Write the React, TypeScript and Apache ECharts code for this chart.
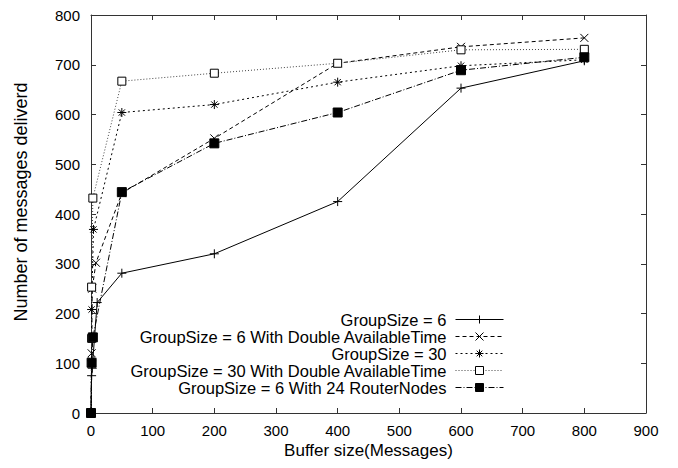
import React, { useEffect, useRef } from "react";
import * as echarts from "echarts";

const seriesNames = [
  "GroupSize = 6",
  "GroupSize = 6 With Double AvailableTime",
  "GroupSize = 30",
  "GroupSize = 30 With Double AvailableTime",
  "GroupSize = 6 With 24 RouterNodes",
];

const groupSize6: [number, number][] = [
  [0, 0], [1, 75], [2, 90], [10, 222], [50, 281], [200, 320], [400, 425], [600, 653], [800, 708],
];
const groupSize6Double: [number, number][] = [
  [0, 0], [1, 120], [2, 250], [8, 302], [50, 442], [200, 552], [400, 703], [600, 736], [800, 754],
];
const groupSize30: [number, number][] = [
  [0, 0], [1, 105], [1, 208], [4, 369], [50, 604], [200, 620], [400, 665], [600, 698], [800, 710],
];
const groupSize30Double: [number, number][] = [
  [0, 0], [1, 150], [1, 253], [3, 432], [50, 667], [200, 683], [400, 703], [600, 730], [800, 731],
];
const groupSize6Router: [number, number][] = [
  [0, 0], [1, 101], [3, 152], [50, 444], [200, 542], [400, 604], [600, 689], [800, 715],
];

const xTicks = [0, 100, 200, 300, 400, 500, 600, 700, 800, 900];
const yTicks = [0, 100, 200, 300, 400, 500, 600, 700, 800];

const PLUS = "path://M0,5L10,5M5,0L5,10";
const CROSS = "path://M0,0L10,10M0,10L10,0";
const STAR = "path://M0,5L10,5M5,0L5,10M1.5,1.5L8.5,8.5M1.5,8.5L8.5,1.5";

export default function App() {
  const ref = useRef<HTMLDivElement>(null);
  useEffect(() => {
    if (!ref.current) return;
    const chart = echarts.init(ref.current, null, { renderer: "svg" });
    const font = "Liberation Sans, Arial, Helvetica, sans-serif";
    const axisColor = "#333";
    const mk = (
      name: string,
      data: [number, number][],
      symbol: string,
      size: number,
      dash: any,
      fill: string,
      lineColor = "#000"
    ) => ({
      name,
      type: "line",
      data,
      symbol,
      symbolSize: size,
      showAllSymbol: true,
      color: "#000",
      lineStyle: { color: lineColor, width: 1, type: dash },
      itemStyle: { color: fill, borderColor: "#000", borderWidth: 1 },
      emphasis: { disabled: true },
    });
    chart.setOption({
      animation: false,
      textStyle: { fontFamily: font },
      grid: { left: 91, right: 32, top: 15, bottom: 55, containLabel: false },
      legend: {
        orient: "vertical",
        right: 169,
        top: 306,
        align: "right",
        itemWidth: 48,
        itemHeight: 10,
        itemGap: 0,
        selectedMode: false,
        lineStyle: { width: 1 },
        itemStyle: { borderWidth: 1 },
        textStyle: { fontFamily: font, fontSize: 16.5, lineHeight: 16.5, padding: [0, 4, 0, 0], color: "#000" },
        data: seriesNames,
      },
      xAxis: [
        {
          type: "value",
          min: 0,
          max: 900,
          interval: 100,
          name: "Buffer size(Messages)",
          nameLocation: "middle",
          nameGap: 23.5,
          nameTextStyle: { fontFamily: font, fontSize: 17, color: "#000" },
          axisLine: { show: true, lineStyle: { color: axisColor, width: 1 } },
          axisTick: { show: true, inside: true, length: 5, lineStyle: { color: axisColor } },
          axisLabel: { margin: 9.5, fontFamily: font, fontSize: 15, color: "#000", formatter: (v: number) => (xTicks.includes(v) ? String(v) : "") },
          splitLine: { show: false },
        },
        {
          type: "value",
          position: "top",
          min: 0,
          max: 900,
          interval: 100,
          axisLine: { show: true, onZero: false, lineStyle: { color: axisColor, width: 1 } },
          axisTick: { show: true, inside: true, length: 5, lineStyle: { color: axisColor } },
          axisLabel: { show: false },
          splitLine: { show: false },
        },
      ],
      yAxis: [
        {
          type: "value",
          min: 0,
          max: 800,
          interval: 100,
          name: "Number of messages deliverd",
          nameLocation: "middle",
          nameGap: 61,
          nameTextStyle: { fontFamily: font, fontSize: 18, color: "#000", padding: [0, 0, 0, 24] },
          axisLine: { show: true, lineStyle: { color: axisColor, width: 1 } },
          axisTick: { show: true, inside: true, length: 5, lineStyle: { color: axisColor } },
          axisLabel: { margin: 11, fontFamily: font, fontSize: 15, color: "#000", formatter: (v: number) => (yTicks.includes(v) ? String(v) : "") },
          splitLine: { show: false },
        },
        {
          type: "value",
          position: "right",
          min: 0,
          max: 800,
          interval: 100,
          axisLine: { show: true, onZero: false, lineStyle: { color: axisColor, width: 1 } },
          axisTick: { show: true, inside: true, length: 5, lineStyle: { color: axisColor } },
          axisLabel: { show: false },
          splitLine: { show: false },
        },
      ],
      series: [
        mk(seriesNames[0], groupSize6, PLUS, 9, "solid", "#000"),
        mk(seriesNames[1], groupSize6Double, CROSS, 8, [4, 3], "#000"),
        mk(seriesNames[2], groupSize30, STAR, 9, [2, 3], "#000"),
        mk(seriesNames[3], groupSize30Double, "rect", 8, [1, 2], "#fff", "#444"),
        mk(seriesNames[4], groupSize6Router, "rect", 9, [6, 2, 1, 2], "#000"),
      ],
    });
    return () => chart.dispose();
  }, []);
  return (
    <div
      ref={ref}
      style={{ position: "absolute", left: 0, top: 0, width: 678, height: 468 }}
    />
  );
}
